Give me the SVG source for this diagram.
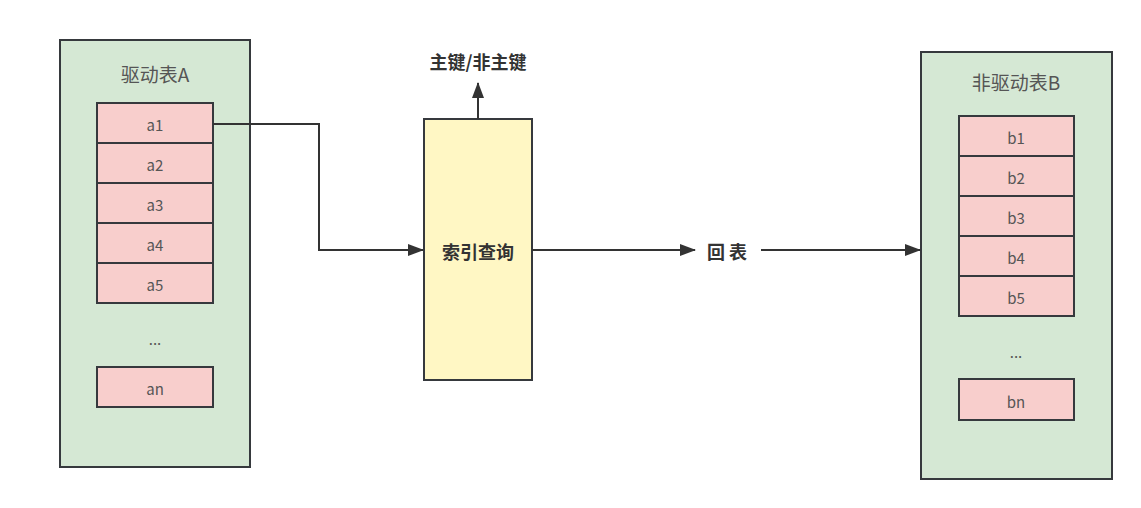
<svg xmlns="http://www.w3.org/2000/svg" width="1141" height="508" viewBox="0 0 1141 508">
<defs>
<style>
.container{fill:#d5e8d4;stroke:#36393d;stroke-width:2}
.row{fill:#f8cecc;stroke:#36393d;stroke-width:2}
.idx{fill:#fff7c4;stroke:#36393d;stroke-width:2}
.t{font-family:"Noto Sans CJK SC","Noto Sans",sans-serif;font-size:15px;fill:#555;text-anchor:middle;dominant-baseline:central}
.title{font-size:19px}
.bold{font-weight:bold;fill:#333;font-size:18px}
.conn{fill:none;stroke:#333;stroke-width:2}
</style>
<marker id="arr" viewBox="0 0 16 12" refX="15" refY="6" markerWidth="8" markerHeight="6" markerUnits="strokeWidth" orient="auto">
<path d="M0,0 L16,6 L0,12 Z" fill="#333"/>
</marker>
</defs>
<rect width="1141" height="508" fill="#ffffff"/>
<g id="tableA">
<rect class="container" x="60" y="40" width="190" height="427"/>
<text class="t title" x="155" y="73">驱动表A</text>
<rect class="row" x="97" y="103" width="116" height="40"/><text class="t" x="155" y="124">a1</text>
<rect class="row" x="97" y="143" width="116" height="40"/><text class="t" x="155" y="164">a2</text>
<rect class="row" x="97" y="183" width="116" height="40"/><text class="t" x="155" y="204">a3</text>
<rect class="row" x="97" y="223" width="116" height="40"/><text class="t" x="155" y="244">a4</text>
<rect class="row" x="97" y="263" width="116" height="40"/><text class="t" x="155" y="284">a5</text>
<text class="t" x="155" y="338">...</text>
<rect class="row" x="97" y="367" width="116" height="40"/><text class="t" x="155" y="388">an</text>
</g>
<g id="tableB">
<rect class="container" x="921" y="52" width="191" height="427"/>
<text class="t title" x="1016" y="81">非驱动表B</text>
<rect class="row" x="959" y="116" width="115" height="40"/><text class="t" x="1016" y="137">b1</text>
<rect class="row" x="959" y="156" width="115" height="40"/><text class="t" x="1016" y="177">b2</text>
<rect class="row" x="959" y="196" width="115" height="40"/><text class="t" x="1016" y="217">b3</text>
<rect class="row" x="959" y="236" width="115" height="40"/><text class="t" x="1016" y="257">b4</text>
<rect class="row" x="959" y="276" width="115" height="40"/><text class="t" x="1016" y="297">b5</text>
<text class="t" x="1016" y="351">...</text>
<rect class="row" x="959" y="379" width="115" height="41"/><text class="t" x="1016" y="401">bn</text>
</g>
<g id="indexQuery">
<rect class="idx" x="424" y="119" width="108" height="261"/>
<text class="t bold" x="478" y="251">索引查询</text>
</g>
<g id="pkLabel">
<text class="t bold" x="478" y="61">主键/非主键</text>
</g>
<g id="huibiao">
<text class="t bold" x="727" y="251">回 表</text>
</g>
<g id="connectors">
<path class="conn" d="M213,124 H319 V250 H423" marker-end="url(#arr)"/>
<path class="conn" d="M478,119 V83" marker-end="url(#arr)"/>
<path class="conn" d="M532,250 H695" marker-end="url(#arr)"/>
<path class="conn" d="M761,250 H920" marker-end="url(#arr)"/>
</g>
</svg>
